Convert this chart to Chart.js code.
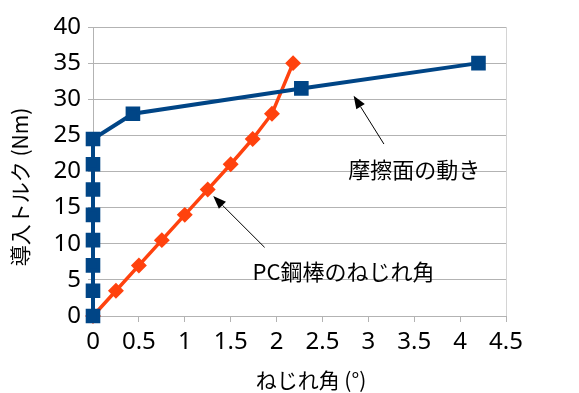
<!DOCTYPE html>
<html>
<head>
<meta charset="utf-8">
<script src="https://cdn.jsdelivr.net/npm/chart.js@4"></script>
<style>
  html, body { margin: 0; padding: 0; background: #fff; }
  #wrap { width: 579px; height: 393px; }
</style>
</head>
<body>
<div id="wrap"><canvas id="chart"></canvas></div>
<script>
// friction surface movement (blue) and PC bar twist angle (orange)
const frictionAngle = [0, 0, 0, 0, 0, 0, 0, 0, 0.435, 2.27, 4.2];
const frictionTorque = [0, 3.5, 7, 10.5, 14, 17.5, 21, 24.5, 28, 31.5, 35];
const barAngle = [0, 0.25, 0.5, 0.75, 1.0, 1.25, 1.5, 1.74, 1.95, 2.18];
const barTorque = [0, 3.5, 7, 10.5, 14, 17.5, 21, 24.5, 28, 35];

const xTitle = 'ねじれ角 (°)';
const yTitle = '導入トルク (Nm)';

// annotation label + arrow (tail -> tip) in data units
const notes = [
    { text: '摩擦面の動き', at: [3.5, 20.3], tail: [3.17, 23.8], tip: [2.84, 30.5] },
    { text: 'PC鋼棒のねじれ角', at: [2.73, 6.2], tail: [1.87, 9.5], tip: [1.31, 16.6] }
];

const toPoints = (xs, ys) => xs.map((x, i) => ({ x: x, y: ys[i] }));

const jpFont = '"Noto Sans CJK JP", "Noto Sans", sans-serif';

const annotations = {
    id: 'annotations',
    afterDatasetsDraw(chart) {
        const ctx = chart.ctx;
        const xs = chart.scales.x, ys = chart.scales.y;
        ctx.save();
        notes.forEach(n => {
            const x0 = xs.getPixelForValue(n.tail[0]), y0 = ys.getPixelForValue(n.tail[1]);
            const x1 = xs.getPixelForValue(n.tip[0]), y1 = ys.getPixelForValue(n.tip[1]);
            const a = Math.atan2(y1 - y0, x1 - x0);
            const len = 13, half = 5;
            const bx = x1 - Math.cos(a) * len, by = y1 - Math.sin(a) * len;
            ctx.strokeStyle = '#000';
            ctx.lineWidth = 1;
            ctx.beginPath();
            ctx.moveTo(x0, y0);
            ctx.lineTo(bx, by);
            ctx.stroke();
            ctx.fillStyle = '#000';
            ctx.beginPath();
            ctx.moveTo(x1, y1);
            ctx.lineTo(bx + Math.sin(a) * half, by - Math.cos(a) * half);
            ctx.lineTo(bx - Math.sin(a) * half, by + Math.cos(a) * half);
            ctx.closePath();
            ctx.fill();

            ctx.font = '22px ' + jpFont;
            ctx.textAlign = 'center';
            ctx.textBaseline = 'middle';
            ctx.fillText(n.text, xs.getPixelForValue(n.at[0]), ys.getPixelForValue(n.at[1]));
        });

        // axis titles
        ctx.font = '21px ' + jpFont;
        ctx.textAlign = 'center';
        ctx.textBaseline = 'middle';
        ctx.fillText(xTitle, 311, 380);
        ctx.translate(20, 187);
        ctx.rotate(-Math.PI / 2);
        ctx.fillText(yTitle, 0, 0);
        ctx.restore();
    }
};

new Chart(document.getElementById('chart'), {
    type: 'scatter',
    data: {
        datasets: [
            {
                label: '摩擦面の動き',
                data: toPoints(frictionAngle, frictionTorque),
                showLine: true,
                borderColor: '#004586',
                backgroundColor: '#004586',
                borderWidth: 4,
                pointStyle: 'rect',
                pointRadius: 7.5,
                pointHoverRadius: 7.5,
                clip: false,
                order: 0
            },
            {
                label: 'PC鋼棒のねじれ角',
                data: toPoints(barAngle, barTorque),
                showLine: true,
                borderColor: '#ff420e',
                backgroundColor: '#ff420e',
                borderWidth: 3.5,
                pointStyle: 'rectRot',
                pointRadius: 5.5,
                pointHoverRadius: 5.5,
                clip: false,
                order: 1
            }
        ]
    },
    options: {
        responsive: true,
        maintainAspectRatio: false,
        animation: false,
        layout: { padding: { top: 27, right: 73, bottom: 0, left: 0 } },
        plugins: {
            legend: { display: false },
            tooltip: { enabled: false }
        },
        scales: {
            x: {
                type: 'linear',
                min: 0,
                max: 4.5,
                ticks: {
                    stepSize: 0.5,
                    padding: 6,
                    color: '#000',
                    font: { family: '"Noto Sans", sans-serif', size: 24 },
                    callback: v => String(v)
                },
                grid: {
                    color: c => c.tick && c.tick.value === 4.5 ? '#d4d4d4' : 'rgba(0,0,0,0)',
                    tickColor: '#b3b3b3',
                    tickLength: 6
                },
                border: { color: '#b3b3b3' },
                afterFit: s => { s.height = 77; }
            },
            y: {
                type: 'linear',
                min: 0,
                max: 40,
                ticks: {
                    stepSize: 5,
                    padding: 7,
                    color: '#000',
                    font: { family: '"Noto Sans", sans-serif', size: 24 },
                    callback: v => String(v)
                },
                grid: {
                    color: '#b3b3b3',
                    tickColor: '#b3b3b3',
                    tickLength: 5
                },
                border: { color: '#b3b3b3' },
                afterFit: s => { s.width = 93; }
            }
        }
    },
    plugins: [annotations]
});
</script>
</body>
</html>
